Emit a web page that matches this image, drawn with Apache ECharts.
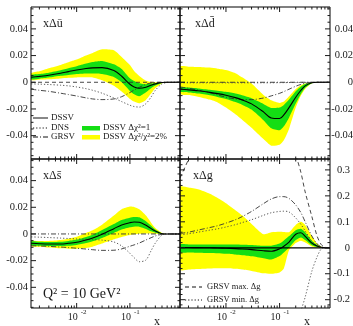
<!DOCTYPE html>
<html>
<head>
<meta charset="utf-8">
<script src="https://cdn.jsdelivr.net/npm/echarts@6/dist/echarts.min.js"></script>
<style>
  html, body { margin: 0; padding: 0; background: #fff; }
  #chart { width: 353px; height: 326px; }
</style>
</head>
<body>
<div id="chart"></div>
<script>
// Momentum fraction grid shared by all curves
const xGrid = [0.0014, 0.002, 0.003, 0.005, 0.007, 0.01, 0.015, 0.02, 0.03, 0.05, 0.07,
               0.1, 0.12, 0.15, 0.2, 0.25, 0.3, 0.4, 0.5, 0.6, 0.7, 0.87];

// x Δū
const ubarDSSV = [.0037,.0044,.0053,.0068,.0080,.0092,.0103,.0108,.0110,.0088,.0045,-.0015,-.0035,-.0045,-.0038,-.0022,-.0012,-.0002,0,0,0,0];
const ubarChi1Hi = [.0055,.0062,.0072,.0090,.0105,.0120,.0140,.0152,.0160,.0135,.0100,.0030,.0010,-.0007,-.0015,-.0010,-.0005,0,0,0,0,0];
const ubarChi1Lo = [.0022,.0027,.0035,.0048,.0055,.0062,.0066,.0066,.0062,.0040,.0000,-.0065,-.0090,-.0105,-.0075,-.0045,-.0025,-.0005,0,0,0,0];
const ubarChi2Hi = [.0067,.0082,.0105,.0130,.0150,.0170,.0200,.0220,.0247,.0240,.0190,.0130,.0085,.0047,.0012,.0004,.0001,0,0,0,0,0];
const ubarChi2Lo = [.0017,.0019,.0022,.0028,.0033,.0036,.0037,.0036,.0015,-.0027,-.0070,-.0125,-.0145,-.0157,-.0132,-.0085,-.0045,-.0007,0,0,0,0];
const ubarDNS = [-.0012,-.0014,-.0017,-.0022,-.0027,-.0035,-.0048,-.0060,-.0082,-.0118,-.0145,-.0172,-.0182,-.0186,-.0160,-.0110,-.0060,-.0012,-.0002,0,0,0];
const ubarGRSV = [-.0052,-.0060,-.0068,-.0082,-.0092,-.0103,-.0117,-.0125,-.0130,-.0125,-.0108,-.0077,-.0058,-.0038,-.0015,-.0006,-.0002,0,0,0,0,0];

// x Δd̄
const dbarDSSV = [-.0052,-.0057,-.0064,-.0076,-.0085,-.0097,-.0115,-.0132,-.0162,-.0222,-.0268,-.0272,-.0245,-.0190,-.0112,-.0060,-.0027,-.0004,0,0,0,0];
const dbarChi1Hi = [-.0036,-.0040,-.0046,-.0056,-.0063,-.0072,-.0085,-.0098,-.0120,-.0162,-.0192,-.0190,-.0170,-.0130,-.0068,-.0032,-.0013,-.0002,0,0,0,0];
const dbarChi1Lo = [-.0072,-.0077,-.0085,-.0098,-.0110,-.0125,-.0148,-.0168,-.0205,-.0285,-.0345,-.0360,-.0330,-.0265,-.0160,-.0088,-.0042,-.0008,-.0001,0,0,0];
const dbarChi2Hi = [.0117,.0117,.0115,.0110,.0102,.0092,.0068,.0037,-.0010,-.0095,-.0135,-.0155,-.0145,-.0105,-.0050,-.0022,-.0009,-.0001,0,0,0,0];
const dbarChi2Lo = [-.0087,-.0095,-.0108,-.0130,-.0152,-.0190,-.0240,-.0280,-.0340,-.0425,-.0475,-.0468,-.0435,-.0350,-.0190,-.0100,-.0050,-.0008,-.0001,0,0,0];
const dbarDNS = [-.0004,-.0004,-.0004,-.0004,-.0004,-.0004,-.0004,-.0004,-.0004,-.0004,-.0004,-.0003,-.0003,-.0002,-.0002,-.0001,-.0001,0,0,0,0,0];
const dbarGRSV = [-.0035,-.0045,-.0058,-.0078,-.0095,-.0112,-.0125,-.0130,-.0130,-.0118,-.0102,-.0083,-.0070,-.0052,-.0030,-.0016,-.0008,-.0001,0,0,0,0];

// x Δs̄
const sbarDSSV = [-.0070,-.0073,-.0075,-.0075,-.0070,-.0062,-.0045,-.0030,-.0002,.0040,.0068,.0085,.0090,.0088,.0065,.0040,.0022,.0002,0,0,0,0];
const sbarChi1Hi = [-.0055,-.0058,-.0060,-.0058,-.0052,-.0042,-.0022,-.0005,.0030,.0075,.0105,.0122,.0128,.0125,.0095,.0062,.0034,.0005,0,0,0,0];
const sbarChi1Lo = [-.0085,-.0088,-.0090,-.0090,-.0088,-.0082,-.0068,-.0055,-.0030,.0008,.0033,.0050,.0055,.0055,.0038,.0020,.0010,.0001,0,0,0,0];
const sbarChi2Hi = [-.0052,-.0053,-.0052,-.0045,-.0035,-.0020,.0008,.0028,.0070,.0138,.0185,.0205,.0202,.0185,.0138,.0085,.0045,.0008,0,0,0,0];
const sbarChi2Lo = [-.0092,-.0096,-.0102,-.0108,-.0110,-.0110,-.0105,-.0095,-.0072,-.0040,-.0022,-.0008,-.0003,.0001,.0004,.0003,.0001,0,0,0,0,0];
const sbarDNS = [-.0022,-.0024,-.0027,-.0031,-.0034,-.0037,-.0040,-.0042,-.0046,-.0060,-.0090,-.0145,-.0178,-.0208,-.0195,-.0125,-.0068,-.0008,-.0001,0,0,0];
const sbarGRSV = [-.0088,-.0090,-.0093,-.0098,-.0102,-.0107,-.0113,-.0118,-.0123,-.0122,-.0112,-.0092,-.0082,-.0068,-.0045,-.0028,-.0015,-.0002,0,0,0,0];

// x Δg
const gluonDSSV = [.0010,.0008,.0005,.0000,-.0008,-.0018,-.0032,-.0045,-.0070,-.0115,-.0135,-.0040,.0060,.0220,.0520,.0580,.0440,.0180,.0070,.0020,.0003,0];
const gluonChi1Hi = [.013,.013,.013,.013,.013,.013,.013,.012,.011,.008,.008,.016,.028,.045,.068,.073,.060,.027,.011,.003,.0005,0];
const gluonChi1Lo = [-.018,-.018,-.019,-.020,-.021,-.023,-.026,-.029,-.033,-.040,-.045,-.032,-.018,.000,.030,.040,.030,.010,.003,.0005,0,0];
const gluonChi2Hi = [.235,.232,.225,.208,.192,.172,.145,.125,.092,.052,.060,.062,.061,.060,.088,.100,.088,.045,.016,.004,.0008,0];
const gluonChi2Lo = [-.085,-.084,-.082,-.080,-.079,-.079,-.081,-.084,-.089,-.098,-.100,-.095,-.080,-.010,.018,.027,.020,.005,.001,0,0,0];
const gluonDNS = [.050,.054,.060,.068,.073,.080,.089,.097,.108,.125,.135,.140,.141,.138,.115,.090,.065,.025,.007,.001,0,0];
const gluonGRSV = [.055,.060,.068,.078,.085,.095,.108,.120,.140,.170,.188,.197,.197,.190,.165,.135,.100,.045,.015,.003,0,0];
const gluonGRSVmax = [.27,.34,.42,null,null,null,null,null,null,null,null,null,null,.46,.36,.29,.215,.12,.045,.012,.002,0];
const gluonGRSVmin = [null,null,null,null,null,null,null,null,null,null,null,null,null,null,-.33,-.245,-.19,-.09,-.035,-.004,0,0];

// Axis ticks
const X_MIN = 0.00139, X_MAX = 0.871;
const xMajorTicks = [0.01, 0.1];
const xMinorTicks = [0.002,0.003,0.004,0.005,0.006,0.007,0.008,0.009,
                     0.02,0.03,0.04,0.05,0.06,0.07,0.08,0.09,
                     0.2,0.3,0.4,0.5,0.6,0.7,0.8];
const seaTicks = [-0.04, -0.02, 0, 0.02, 0.04];
const gluonTicks = [-0.2, -0.1, 0, 0.1, 0.2, 0.3];

const INK = '#1a1a1a';
const SERIF = '"Liberation Serif", "DejaVu Serif", serif';
const GREEN = '#14de14';
const YELLOW = '#ffff00';

function steps(from, to, step) {
  const out = [];
  for (let v = from; v <= to + 1e-9; v += step) out.push(+v.toFixed(6));
  return out;
}
const seaMinor = steps(-0.055, 0.055, 0.005).filter(v => !seaTicks.some(t => Math.abs(t - v) < 1e-6));
const gluonMinor = steps(-0.22, 0.34, 0.02).filter(v => !gluonTicks.some(t => Math.abs(t - v) < 1e-6));
const fmtSea = v => v === 0 ? '0' : v.toFixed(2);
const fmtGluon = v => v === 0 ? '0' : v.toFixed(1);

const panels = [
  { left: 31,  top: 7,   width: 149, height: 152, yMin: -0.0575, yMax: 0.0564,
    major: seaTicks, minor: seaMinor, fmt: fmtSea, labelSide: 'left', xLabels: false,
    title: 'xΔū', titleDx: 12, zeroDash: [4, 3] },
  { left: 180, top: 7,   width: 150, height: 152, yMin: -0.0575, yMax: 0.0564,
    major: seaTicks, minor: seaMinor, fmt: fmtSea, labelSide: 'right', labelX: 353, xLabels: false,
    title: 'xΔd̄', titleDx: 15, zeroDash: [5, 2, 1, 2] },
  { left: 31,  top: 159, width: 149, height: 149, yMin: -0.0555, yMax: 0.0562,
    major: seaTicks, minor: seaMinor, fmt: fmtSea, labelSide: 'left', xLabels: true,
    title: 'xΔs̄', titleDx: 12, zeroDash: [5, 2, 1, 2] },
  { left: 180, top: 159, width: 150, height: 149, yMin: -0.232, yMax: 0.342,
    major: gluonTicks, minor: gluonMinor, fmt: fmtGluon, labelSide: 'right', labelX: 350, xLabels: true,
    title: 'xΔg', titleDx: 13, zeroDash: 'solid' }
];

function band(gi, lo, hi, color, z) {
  return {
    type: 'custom', xAxisIndex: gi, yAxisIndex: gi, clip: true, silent: true, z,
    data: [[0.01, 0]],
    renderItem(params, api) {
      const pts = [];
      xGrid.forEach((x, i) => pts.push(api.coord([x, hi[i]])));
      for (let i = xGrid.length - 1; i >= 0; i--) pts.push(api.coord([xGrid[i], lo[i]]));
      return { type: 'polygon', shape: { points: pts, smooth: 0.2 }, style: { fill: color } };
    }
  };
}

function curve(gi, ys, color, width, dash, z) {
  return {
    type: 'line', xAxisIndex: gi, yAxisIndex: gi, silent: true, z,
    data: xGrid.map((x, i) => [x, ys[i]]),
    symbol: 'none', showSymbol: false, smooth: 0.3, connectNulls: false,
    lineStyle: { color, width, type: dash }
  };
}

function zeroLine(gi, dash) {
  return {
    type: 'line', xAxisIndex: gi, yAxisIndex: gi, silent: true, z: 6,
    data: [[X_MIN, 0], [X_MAX, 0]], symbol: 'none',
    lineStyle: { color: dash === 'solid' ? '#000' : '#333', width: dash === 'solid' ? 1.2 : 0.9, type: dash }
  };
}

function decor(gi, p) {
  return {
    type: 'custom', xAxisIndex: gi, yAxisIndex: gi, silent: true, z: 20, clip: false,
    data: [[0.01, 0]],
    renderItem(params, api) {
      const a = api.coord([X_MIN, p.yMax]), b = api.coord([X_MAX, p.yMin]);
      const L = a[0], T = a[1], R = b[0], B = b[1];
      const kids = [];
      const ln = (x1, y1, x2, y2) => kids.push({ type: 'line', shape: { x1, y1, x2, y2 },
        style: { stroke: INK, lineWidth: 1 } });
      const txt = (s, x, y, size, align) => kids.push({ type: 'text',
        style: { text: s, x, y, fill: INK, font: size + 'px ' + SERIF,
                 align, textAlign: align, verticalAlign: 'middle', textVerticalAlign: 'middle' } });
      kids.push({ type: 'rect', shape: { x: L, y: T, width: R - L, height: B - T },
        style: { fill: 'none', stroke: '#000', lineWidth: 1 } });
      xMajorTicks.forEach(v => { const x = api.coord([v, 0])[0]; ln(x, B, x, B - 5); ln(x, T, x, T + 5); });
      xMinorTicks.forEach(v => { const x = api.coord([v, 0])[0]; ln(x, B, x, B - 2.5); ln(x, T, x, T + 2.5); });
      p.major.forEach(v => { const y = api.coord([0.01, v])[1]; ln(L, y, L + 5, y); ln(R, y, R - 5, y); });
      p.minor.forEach(v => { const y = api.coord([0.01, v])[1]; ln(L, y, L + 2.5, y); ln(R, y, R - 2.5, y); });
      p.major.forEach(v => {
        const y = api.coord([0.01, v])[1];
        if (p.labelSide === 'left') txt(p.fmt(v), L - 3, y, 10.5, 'right');
        else txt(p.fmt(v), p.labelX, y, 10.5, 'right');
      });
      if (p.xLabels) {
        xMajorTicks.forEach(v => {
          const x = api.coord([v, 0])[0];
          txt('10', x + 1, B + 9, 10, 'right');
          txt(String(Math.round(Math.log10(v))), x + 4, B + 4.5, 7, 'left');
        });
        txt('x', R - 23, B + 14, 12, 'center');
      }
      txt(p.title, L + p.titleDx, T + 17, 12, 'left');
      return { type: 'group', children: kids };
    }
  };
}

const series = [];
const sets = [
  [ubarChi2Lo, ubarChi2Hi, ubarChi1Lo, ubarChi1Hi, ubarDSSV, ubarDNS, ubarGRSV],
  [dbarChi2Lo, dbarChi2Hi, dbarChi1Lo, dbarChi1Hi, dbarDSSV, dbarDNS, dbarGRSV],
  [sbarChi2Lo, sbarChi2Hi, sbarChi1Lo, sbarChi1Hi, sbarDSSV, sbarDNS, sbarGRSV],
  [gluonChi2Lo, gluonChi2Hi, gluonChi1Lo, gluonChi1Hi, gluonDSSV, gluonDNS, gluonGRSV]
];
sets.forEach((s, gi) => {
  series.push(band(gi, s[0], s[1], YELLOW, 1));
  series.push(band(gi, s[2], s[3], GREEN, 2));
  series.push(zeroLine(gi, panels[gi].zeroDash));
  series.push(curve(gi, s[5], '#444', 0.9, [1.2, 2], 7));
  series.push(curve(gi, s[6], '#333', 0.9, [5, 2, 1, 2], 7));
  series.push(curve(gi, s[4], '#000', 1.1, 'solid', 8));
  series.push(decor(gi, panels[gi]));
});
series.push(curve(3, gluonGRSVmax, '#333', 0.9, [4, 3], 7));
series.push(curve(3, gluonGRSVmin, '#444', 0.9, [1.2, 2], 7));

const legendFont = '9px ' + SERIF;
const smallFont = '8.5px ' + SERIF;
function gText(text, x, y, font, size) {
  return { type: 'text', x, y, silent: true, z: 30,
    style: { text, font: font || legendFont, fill: INK, verticalAlign: 'middle', textVerticalAlign: 'middle' } };
}
function gLine(x1, y, x2, dash) {
  return { type: 'line', silent: true, z: 30, shape: { x1, y1: y, x2, y2: y },
    style: { stroke: '#111', lineWidth: 1, lineDash: dash } };
}

const chart = echarts.init(document.getElementById('chart'), null, { renderer: 'canvas' });
chart.setOption({
  animation: false,
  backgroundColor: '#fff',
  grid: panels.map(p => ({ left: p.left, top: p.top, width: p.width, height: p.height, show: false })),
  xAxis: panels.map((p, i) => ({ type: 'log', logBase: 10, gridIndex: i, min: X_MIN, max: X_MAX, show: false })),
  yAxis: panels.map((p, i) => ({ type: 'value', gridIndex: i, min: p.yMin, max: p.yMax, show: false })),
  series,
  graphic: [
    gLine(33, 118, 48, null), gText('DSSV', 51, 118),
    gLine(33, 128, 48, [1.2, 2]), gText('DNS', 51, 128),
    gLine(33, 137, 48, [5, 2, 1, 2]), gText('GRSV', 51, 137),
    { type: 'rect', silent: true, z: 30, shape: { x: 82, y: 126, width: 18, height: 4.5 }, style: { fill: GREEN } },
    gText('DSSV Δχ²=1', 103, 128),
    { type: 'rect', silent: true, z: 30, shape: { x: 82, y: 135, width: 18, height: 4.5 }, style: { fill: YELLOW } },
    gText('DSSV Δχ²/χ²=2%', 103, 137),
    gText('Q² = 10 GeV²', 43, 294, '14px ' + SERIF),
    gLine(185, 287, 202, [4, 3]), gText('GRSV max. Δg', 207, 287, smallFont),
    gLine(185, 300, 202, [1.2, 2]), gText('GRSV min. Δg', 207, 300, smallFont)
  ]
});
</script>
</body>
</html>
